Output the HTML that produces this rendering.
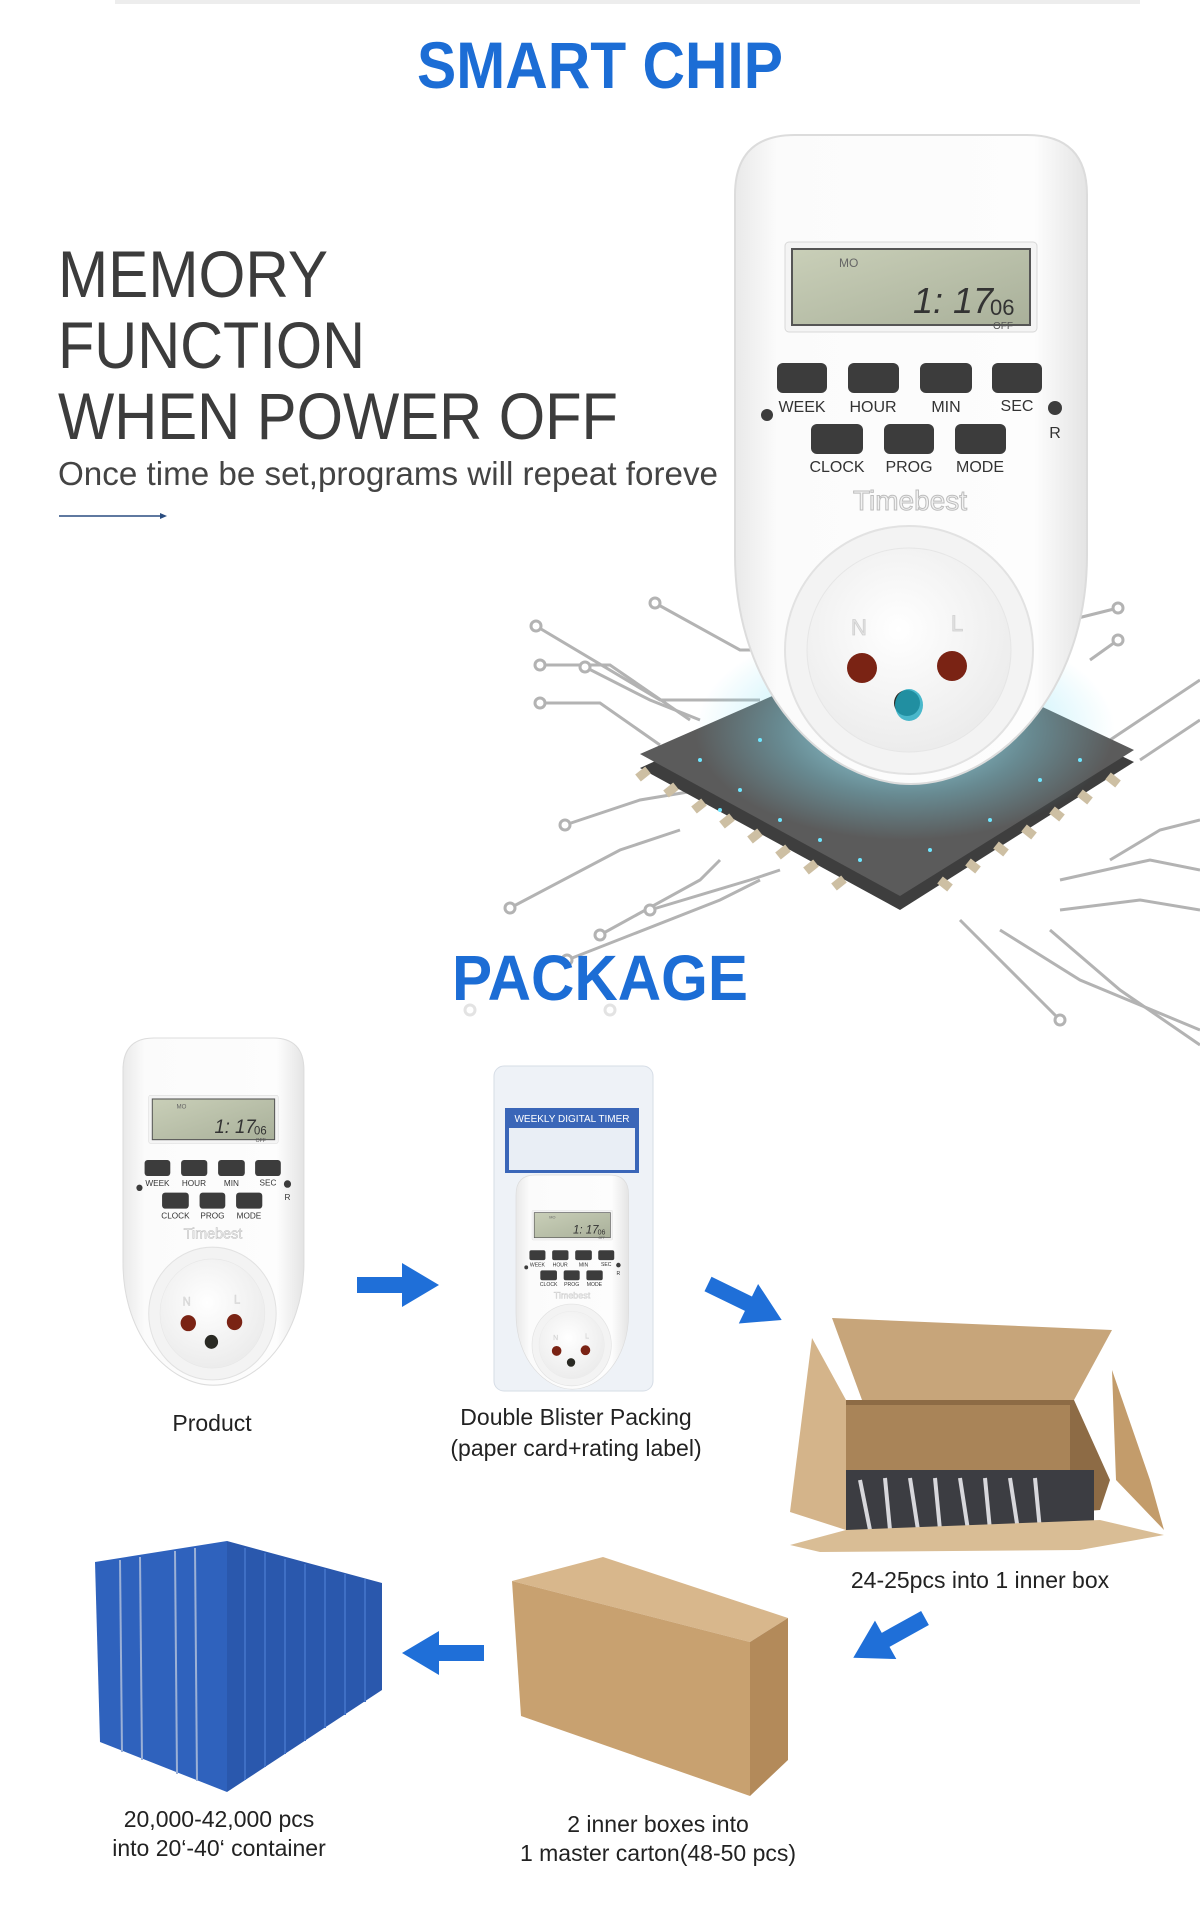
<!DOCTYPE html>
<html><head><meta charset="utf-8"><style>
html,body{margin:0;padding:0;background:#fff}
svg{display:block}
text{font-family:"Liberation Sans",Arial,sans-serif}
</style></head><body>
<svg width="1200" height="1922" viewBox="0 0 1200 1922" xmlns="http://www.w3.org/2000/svg">
<defs>
<linearGradient id="body" x1="0" y1="0" x2="1" y2="0">
<stop offset="0" stop-color="#e9e9e9"/><stop offset="0.12" stop-color="#fbfbfb"/><stop offset="0.85" stop-color="#fdfdfd"/><stop offset="1" stop-color="#e4e4e4"/></linearGradient>
<linearGradient id="lcd" x1="0" y1="0" x2="1" y2="1"><stop offset="0" stop-color="#c9cfb8"/><stop offset="1" stop-color="#a9b09a"/></linearGradient>
<radialGradient id="sock" cx="0.45" cy="0.4" r="0.6"><stop offset="0" stop-color="#ffffff"/><stop offset="1" stop-color="#ececec"/></radialGradient>
<radialGradient id="glow" cx="0.5" cy="0.5" r="0.5"><stop offset="0" stop-color="#bff3ff" stop-opacity="0.9"/><stop offset="0.6" stop-color="#7fe0f5" stop-opacity="0.35"/><stop offset="1" stop-color="#7fe0f5" stop-opacity="0"/></radialGradient>
<g id="dev">
<path d="M0,60 Q0,0 60,0 H292 Q352,0 352,60 V420 C352,560 260,649 176,649 C92,649 0,560 0,420 Z" fill="url(#body)" stroke="#dcdcdc" stroke-width="2"/>
<rect x="50" y="107" width="252" height="90" rx="4" fill="#f4f4f4" stroke="#d8d8d8"/>
<rect x="57" y="114" width="238" height="76" fill="url(#lcd)" stroke="#555" stroke-width="2"/>
<text x="104" y="132" font-size="12" fill="#666">MO</text>
<text x="178" y="178" font-size="36" fill="#333" font-style="italic">1: 17</text>
<text x="255" y="180" font-size="22" fill="#333">06</text>
<text x="258" y="194" font-size="10" fill="#555">OFF</text>
<g fill="#3c3c3c">
<rect x="42" y="228" width="50" height="30" rx="6"/><rect x="113" y="228" width="51" height="30" rx="6"/><rect x="185" y="228" width="52" height="30" rx="6"/><rect x="257" y="228" width="50" height="30" rx="6"/>
<rect x="76" y="289" width="52" height="30" rx="6"/><rect x="149" y="289" width="50" height="30" rx="6"/><rect x="220" y="289" width="51" height="30" rx="6"/>
<circle cx="32" cy="280" r="6"/><circle cx="320" cy="273" r="7"/></g>
<g font-size="16" fill="#333" text-anchor="middle">
<text x="67" y="277">WEEK</text><text x="138" y="277">HOUR</text><text x="211" y="277">MIN</text><text x="282" y="276">SEC</text>
<text x="102" y="337">CLOCK</text><text x="174" y="337">PROG</text><text x="245" y="337">MODE</text><text x="320" y="303">R</text></g>
<text x="175" y="375" font-size="28" fill="#f2f2f2" stroke="#bdbdbd" stroke-width="1" text-anchor="middle">Timebest</text>
<circle cx="174" cy="515" r="124" fill="#f3f3f3" stroke="#e2e2e2" stroke-width="2"/>
<circle cx="174" cy="515" r="102" fill="url(#sock)" stroke="#e6e6e6"/>
<text x="116" y="500" font-size="22" fill="#e3e3e3" stroke="#cfcfcf" stroke-width="0.8">N</text>
<text x="216" y="496" font-size="22" fill="#e3e3e3" stroke="#cfcfcf" stroke-width="0.8">L</text>
<circle cx="127" cy="533" r="15" fill="#7a2314"/><circle cx="217" cy="531" r="15" fill="#7a2314"/>
<circle cx="172" cy="568" r="13" fill="#2a2a24"/>
</g>
<g id="arr"><path d="M0,-8 H45 V-22 L82,0 L45,22 V8 H0 Z" fill="#1f6fd8"/></g>
</defs>

<rect x="115" y="0" width="1025" height="4" fill="#ededed"/>

<text x="600" y="88" font-size="66" font-weight="bold" fill="#1c6dd5" text-anchor="middle" textLength="366" lengthAdjust="spacingAndGlyphs">SMART CHIP</text>

<g font-size="66" fill="#3c3c3c">
<text x="58" y="297" textLength="270" lengthAdjust="spacingAndGlyphs">MEMORY</text>
<text x="58" y="368" textLength="307" lengthAdjust="spacingAndGlyphs">FUNCTION</text>
<text x="58" y="439" textLength="560" lengthAdjust="spacingAndGlyphs">WHEN POWER OFF</text>
</g>
<text x="58" y="485" font-size="33" fill="#444" textLength="660" lengthAdjust="spacingAndGlyphs">Once time be set,programs will repeat foreve</text>
<line x1="59" y1="516" x2="160" y2="516" stroke="#2a4d80" stroke-width="1.5"/>
<path d="M160,513 L167,516 L160,519 Z" fill="#2a4d80"/>

<g fill="none" stroke="#b3b3b3" stroke-width="3">
<polyline points="536,626 660,700 760,700"/>
<polyline points="655,603 740,650 770,650"/>
<polyline points="540,665 610,665 690,720"/>
<polyline points="585,667 650,700 700,720"/>
<polyline points="540,703 600,703 660,745"/>
<polyline points="567,960 720,900 760,880"/>
<polyline points="510,908 620,850 680,830"/>
<polyline points="565,825 640,800 700,790"/>
<polyline points="600,935 700,880 720,860"/>
<polyline points="650,910 750,880 780,870"/>
<polyline points="1118,608 1070,620"/>
<polyline points="1118,640 1090,660"/>
<polyline points="1200,680 1140,720 1110,740"/>
<polyline points="1200,720 1140,760"/>
<polyline points="1110,860 1160,830 1200,820"/>
<polyline points="1060,910 1140,900 1200,910"/>
<polyline points="1000,930 1080,980 1200,1030"/>
<polyline points="1050,930 1120,990 1200,1045"/>
<polyline points="960,920 1040,1000 1060,1020"/>
<polyline points="1060,880 1150,860 1200,870"/>
</g>
<g fill="#fff" stroke="#b3b3b3" stroke-width="3">
<circle cx="536" cy="626" r="5"/><circle cx="655" cy="603" r="5"/><circle cx="540" cy="665" r="5"/><circle cx="585" cy="667" r="5"/><circle cx="540" cy="703" r="5"/>
<circle cx="567" cy="960" r="5"/><circle cx="510" cy="908" r="5"/><circle cx="565" cy="825" r="5"/><circle cx="600" cy="935" r="5"/><circle cx="650" cy="910" r="5"/>
<circle cx="1118" cy="608" r="5"/><circle cx="1118" cy="640" r="5"/><circle cx="1060" cy="1020" r="5"/><circle cx="470" cy="1010" r="5" stroke="#e3e3e3"/><circle cx="610" cy="1010" r="5" stroke="#e3e3e3"/>
</g>

<polygon points="640,768 900,910 1134,762 900,650" fill="#3e3e3e"/>
<polygon points="640,754 900,896 1134,750 900,640" fill="#5b5b5b"/>
<g stroke="#cdbfa3" stroke-width="9">
<line x1="648" y1="770" x2="638" y2="778"/><line x1="676" y1="786" x2="666" y2="794"/><line x1="704" y1="802" x2="694" y2="810"/><line x1="732" y1="817" x2="722" y2="825"/><line x1="760" y1="832" x2="750" y2="840"/><line x1="788" y1="848" x2="778" y2="856"/><line x1="816" y1="863" x2="806" y2="871"/><line x1="844" y1="879" x2="834" y2="887"/>
<line x1="940" y1="880" x2="950" y2="888"/><line x1="968" y1="862" x2="978" y2="870"/><line x1="996" y1="845" x2="1006" y2="853"/><line x1="1024" y1="828" x2="1034" y2="836"/><line x1="1052" y1="810" x2="1062" y2="818"/><line x1="1080" y1="793" x2="1090" y2="801"/><line x1="1108" y1="776" x2="1118" y2="784"/>
</g>
<ellipse cx="905" cy="730" rx="210" ry="110" fill="url(#glow)"/>
<g fill="#6fe6ff">
<circle cx="700" cy="760" r="2"/><circle cx="740" cy="790" r="2"/><circle cx="780" cy="820" r="2"/><circle cx="820" cy="840" r="2"/><circle cx="860" cy="860" r="2"/><circle cx="990" cy="820" r="2"/><circle cx="1040" cy="780" r="2"/><circle cx="1080" cy="760" r="2"/><circle cx="760" cy="740" r="2"/><circle cx="1010" cy="740" r="2"/><circle cx="930" cy="850" r="2"/><circle cx="720" cy="810" r="2"/>
</g>

<use href="#dev" x="735" y="135"/>
<ellipse cx="909" cy="705" rx="14" ry="16" fill="#1fa9c0" opacity="0.8"/>

<text x="600" y="1000" font-size="64" font-weight="bold" fill="#1c6dd5" text-anchor="middle" textLength="296" lengthAdjust="spacingAndGlyphs">PACKAGE</text>

<use href="#dev" transform="translate(123,1038) scale(0.514,0.535)"/>
<text x="212" y="1431" font-size="23" fill="#222" text-anchor="middle">Product</text>

<rect x="494" y="1066" width="159" height="325" rx="10" fill="#eef2f7" stroke="#d6dde6"/>
<rect x="505" y="1108" width="134" height="65" fill="#3a66b8"/>
<rect x="509" y="1128" width="126" height="42" fill="#e9eef5"/>
<text x="572" y="1122" font-size="10" fill="#fff" text-anchor="middle">WEEKLY DIGITAL TIMER</text>
<use href="#dev" transform="translate(516,1175) scale(0.32,0.33)"/>
<text x="576" y="1425" font-size="23" fill="#222" text-anchor="middle">Double Blister Packing</text>
<text x="576" y="1456" font-size="23" fill="#222" text-anchor="middle">(paper card+rating label)</text>

<polygon points="832,1318 1112,1330 1074,1400 862,1400" fill="#c7a57a"/>
<polygon points="812,1338 846,1400 846,1530 790,1512" fill="#d4b48a"/>
<polygon points="1112,1370 1150,1480 1164,1530 1116,1480" fill="#c39c6b"/>
<polygon points="846,1400 1074,1400 1110,1480 1100,1510 846,1530" fill="#8d6b45"/>
<rect x="846" y="1405" width="224" height="65" fill="#a98458"/>
<rect x="846" y="1470" width="248" height="70" fill="#3c3d42"/>
<g stroke="#d8d8dc" stroke-width="4"><line x1="860" y1="1480" x2="870" y2="1530"/><line x1="885" y1="1478" x2="890" y2="1530"/><line x1="910" y1="1478" x2="918" y2="1530"/><line x1="935" y1="1478" x2="940" y2="1530"/><line x1="960" y1="1478" x2="968" y2="1530"/><line x1="985" y1="1478" x2="990" y2="1530"/><line x1="1010" y1="1478" x2="1018" y2="1530"/><line x1="1035" y1="1478" x2="1040" y2="1530"/></g>
<polygon points="790,1545 846,1530 1100,1520 1164,1535 1080,1550 820,1552" fill="#d9bd95"/>
<text x="980" y="1588" font-size="23" fill="#222" text-anchor="middle">24-25pcs into 1 inner box</text>

<polygon points="512,1581 603,1557 788,1618 750,1642" fill="#d8b78c"/>
<polygon points="512,1581 750,1642 750,1796 521,1716" fill="#c8a170"/>
<polygon points="750,1642 788,1618 788,1760 750,1796" fill="#b38a5a"/>
<text x="658" y="1832" font-size="23" fill="#222" text-anchor="middle">2 inner boxes into</text>
<text x="658" y="1861" font-size="23" fill="#222" text-anchor="middle">1 master carton(48-50 pcs)</text>

<polygon points="227,1541 382,1583 382,1690 227,1792" fill="#2a58ad"/>
<g stroke="#3f6fc4" stroke-width="2">
<line x1="245" y1="1548" x2="245" y2="1780"/><line x1="265" y1="1553" x2="265" y2="1767"/><line x1="285" y1="1559" x2="285" y2="1754"/><line x1="305" y1="1564" x2="305" y2="1741"/><line x1="325" y1="1569" x2="325" y2="1728"/><line x1="345" y1="1574" x2="345" y2="1715"/><line x1="365" y1="1579" x2="365" y2="1702"/></g>
<polygon points="95,1562 227,1541 227,1792 100,1742" fill="#2f62bd"/>
<g stroke="#9bb0d6" stroke-width="2"><line x1="120" y1="1560" x2="122" y2="1752"/><line x1="140" y1="1557" x2="142" y2="1760"/><line x1="175" y1="1551" x2="177" y2="1774"/><line x1="195" y1="1548" x2="197" y2="1781"/></g>
<text x="219" y="1827" font-size="23" fill="#222" text-anchor="middle">20,000-42,000 pcs</text>
<text x="219" y="1856" font-size="23" fill="#222" text-anchor="middle">into 20‘-40‘ container</text>

<use href="#arr" transform="translate(357,1285)"/>
<use href="#arr" transform="translate(708,1284) rotate(26)"/>
<use href="#arr" transform="translate(925,1618) rotate(151)"/>
<use href="#arr" transform="translate(484,1653) rotate(180)"/>
</svg>
</body></html>
